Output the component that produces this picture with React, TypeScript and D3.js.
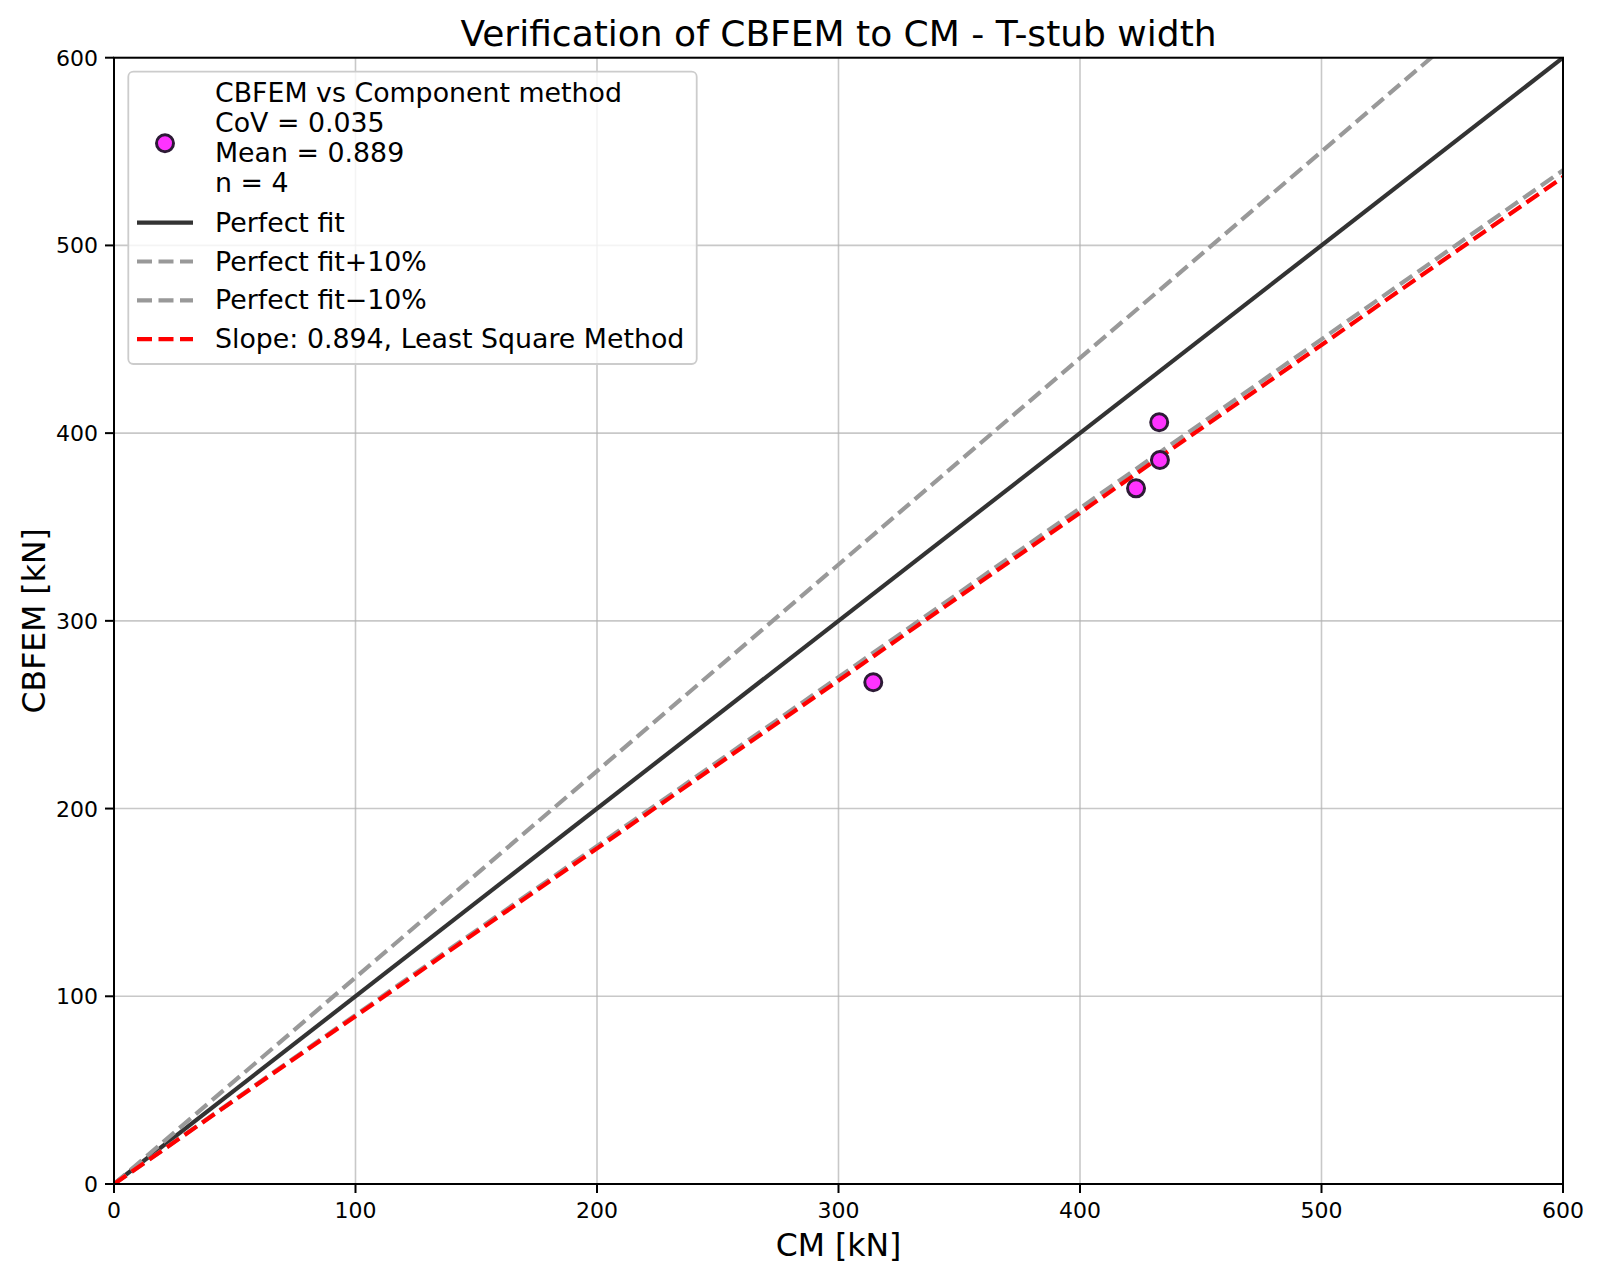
import React from "react";
import * as d3 from "d3";

const cmValues = [314.4, 423.2, 433.1, 432.8];
const cbfemValues = [267.3, 370.6, 385.7, 405.8];
const xTicks = [0, 100, 200, 300, 400, 500, 600];
const yTicks = [0, 100, 200, 300, 400, 500, 600];
const refLines = [
  { label: "Perfect fit", slope: 1.0, color: "#333333", dash: "" },
  { label: "Perfect fit+10%", slope: 1.1, color: "#999999", dash: "15,6.5" },
  { label: "Perfect fit\u221210%", slope: 0.9, color: "#999999", dash: "15,6.5" },
  { label: "Slope: 0.894, Least Square Method", slope: 0.894, color: "#ff0000", dash: "15,6.5" },
];
const scatterLegend = ["CBFEM vs Component method", "CoV = 0.035", "Mean = 0.889", "n = 4"];

const W = 1600;
const H = 1279;
const L = 114, R = 1563, T = 57.7, B = 1184;
const FONT = "DejaVu Sans, sans-serif";

export default function App() {
  const x = d3.scaleLinear().domain([0, 600]).range([L, R]);
  const y = d3.scaleLinear().domain([0, 600]).range([B, T]);
  const lineGen = d3.line<[number, number]>().x((d) => x(d[0])).y((d) => y(d[1]));

  return (
    <div style={{ position: "absolute", left: 0, top: 0 }}>
      <svg width={W} height={H} xmlns="http://www.w3.org/2000/svg" style={{ display: "block", background: "#fff" }}>
        <defs>
          <clipPath id="plotClip">
            <rect x={L} y={T} width={R - L} height={B - T} />
          </clipPath>
        </defs>
        <rect x={0} y={0} width={W} height={H} fill="#fff" />
        {/* grid */}
        {xTicks.map((t) => (
          <line key={"gx" + t} x1={x(t)} x2={x(t)} y1={T} y2={B} stroke="#b0b0b0" strokeOpacity={0.7} strokeWidth={1.6} />
        ))}
        {yTicks.map((t) => (
          <line key={"gy" + t} x1={L} x2={R} y1={y(t)} y2={y(t)} stroke="#b0b0b0" strokeOpacity={0.7} strokeWidth={1.6} />
        ))}
        {/* reference lines */}
        <g clipPath="url(#plotClip)">
          {refLines.map((r) => (
            <path
              key={r.label}
              d={lineGen([[0, 0], [600, 600 * r.slope]]) || ""}
              fill="none"
              stroke={r.color}
              strokeWidth={4.2}
              strokeDasharray={r.dash || undefined}
            />
          ))}
          {cmValues.map((v, i) => (
            <circle key={"p" + i} cx={x(v)} cy={y(cbfemValues[i])} r={8.5} fill="#ff33ff" stroke="#2d1a36" strokeWidth={3} />
          ))}
        </g>
        {/* spines */}
        <rect x={L} y={T} width={R - L} height={B - T} fill="none" stroke="#000" strokeWidth={2} />
        {/* ticks */}
        {xTicks.map((t) => (
          <g key={"tx" + t}>
            <line x1={x(t)} x2={x(t)} y1={B} y2={B + 9} stroke="#000" strokeWidth={2} />
            <text x={x(t)} y={B + 34} textAnchor="middle" fontFamily={FONT} fontSize={22} fill="#000">{t}</text>
          </g>
        ))}
        {yTicks.map((t) => (
          <g key={"ty" + t}>
            <line x1={L - 9} x2={L} y1={y(t)} y2={y(t)} stroke="#000" strokeWidth={2} />
            <text x={L - 16} y={y(t) + 8} textAnchor="end" fontFamily={FONT} fontSize={22} fill="#000">{t}</text>
          </g>
        ))}
        {/* title & labels */}
        <text x={(L + R) / 2} y={46} textAnchor="middle" fontFamily={FONT} fontSize={36} fill="#000">
          Verification of CBFEM to CM - T-stub width
        </text>
        <text x={(L + R) / 2} y={1256} textAnchor="middle" fontFamily={FONT} fontSize={31.5} fill="#000">CM [kN]</text>
        <text transform={`translate(45, ${(T + B) / 2}) rotate(-90)`} textAnchor="middle" fontFamily={FONT} fontSize={31.5} fill="#000">CBFEM [kN]</text>
        {/* legend */}
        <g>
          <rect x={128.3} y={71.7} width={568.4} height={292.3} rx={5} fill="#fff" fillOpacity={0.8} stroke="#cccccc" strokeWidth={1.8} />
          <circle cx={165} cy={143.3} r={8.5} fill="#ff33ff" stroke="#2d1a36" strokeWidth={3} />
          {scatterLegend.map((s, i) => (
            <text key={"sl" + i} x={215} y={101.7 + i * 30} fontFamily={FONT} fontSize={26.8} fill="#000">{s}</text>
          ))}
          {refLines.map((r, i) => {
            const by = 231.7 + i * 38.8;
            return (
              <g key={"lg" + i}>
                <line x1={137} x2={193} y1={by - 9} y2={by - 9} stroke={r.color} strokeWidth={4.2} strokeDasharray={r.dash || undefined} />
                <text x={215} y={by} fontFamily={FONT} fontSize={26.8} fill="#000">{r.label}</text>
              </g>
            );
          })}
        </g>
      </svg>
    </div>
  );
}
